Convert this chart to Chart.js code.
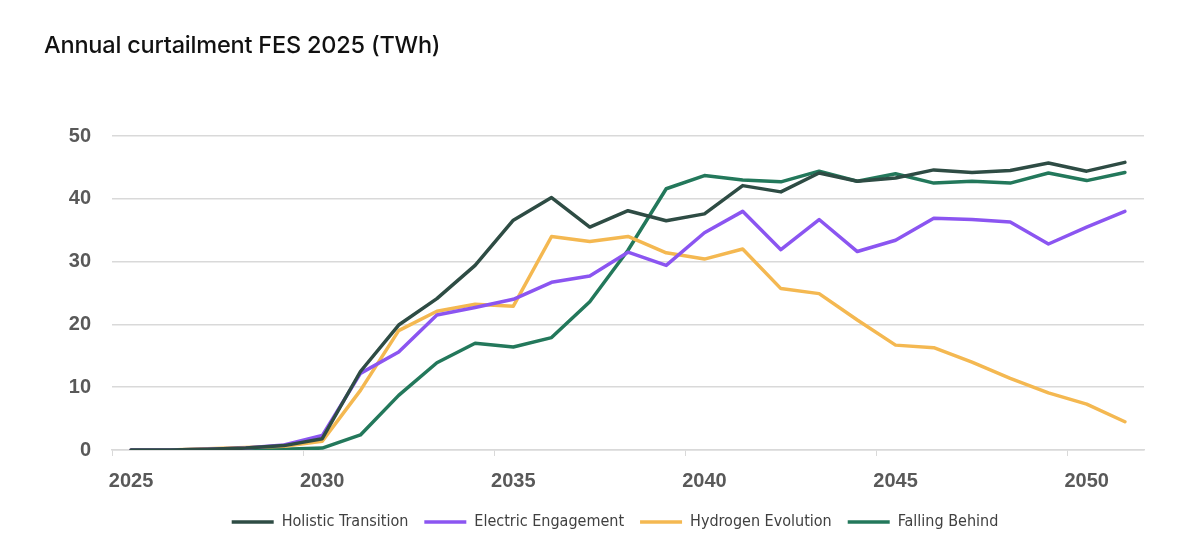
<!DOCTYPE html>
<html lang="en">
<head>
    <meta charset="UTF-8">
    <title>Annual curtailment FES 2025 (TWh)</title>
    <script src="https://cdn.jsdelivr.net/npm/chart.js"></script>
    <style>
        html, body { margin: 0; padding: 0; background: #fff; }
        .wrap { position: relative; width: 1200px; height: 554px; }
        .chart-title {
            position: absolute; left: 44px; top: 30px;
            font-family: Inter, "Noto Sans", sans-serif;
            font-size: 23.5px; font-weight: 500; color: #111;
            letter-spacing: -0.2px;
        }
        canvas { display: block; }
    </style>
</head>
<body>
<div class="wrap">
    <div class="chart-title">Annual curtailment FES 2025 (TWh)</div>
    <canvas id="curtailChart" width="1200" height="554"></canvas>
</div>

<script>
    // years 2025..2051, one point per year
    const years = ['2025', '2026', '2027', '2028', '2029', '2030', '2031', '2032', '2033', '2034',
        '2035', '2036', '2037', '2038', '2039', '2040', '2041', '2042', '2043', '2044',
        '2045', '2046', '2047', '2048', '2049', '2050', '2051'];

    // TWh
    const holisticTransition = [0, 0, 0.1, 0.3, 0.7, 1.8, 12.5, 19.9, 24.1, 29.4,
        36.6, 40.2, 35.5, 38.1, 36.5, 37.6, 42.1, 41.1, 44.1, 42.8,
        43.3, 44.6, 44.2, 44.5, 45.7, 44.4, 45.8];
    const electricEngagement = [0, 0, 0.1, 0.3, 0.8, 2.3, 12.2, 15.6, 21.5, 22.7,
        24.0, 26.7, 27.7, 31.5, 29.4, 34.6, 38.0, 31.9, 36.7, 31.6,
        33.4, 36.9, 36.7, 36.3, 32.8, 35.5, 38.0];
    const hydrogenEvolution = [0, 0, 0.2, 0.4, 0.6, 1.4, 9.5, 19.0, 22.1, 23.2,
        22.9, 34.0, 33.2, 34.0, 31.4, 30.4, 32.0, 25.7, 24.9, 20.7,
        16.7, 16.3, 14.0, 11.4, 9.1, 7.3, 4.5];
    const fallingBehind = [0, 0, 0.1, 0.1, 0.1, 0.3, 2.4, 8.7, 13.9, 17.0,
        16.4, 17.9, 23.6, 31.8, 41.6, 43.7, 43.0, 42.7, 44.4, 42.8,
        44.0, 42.5, 42.8, 42.5, 44.1, 42.9, 44.2];

    const yTicks = [0, 10, 20, 30, 40, 50];

    const gridGrey = '#d9d9d9';
    const tickGrey = '#595959';

    function series(label, data, color) {
        return {
            label: label,
            data: data,
            borderColor: color,
            backgroundColor: color,
            borderWidth: 3.5,
            pointRadius: 0,
            pointHoverRadius: 0,
            tension: 0,
            borderJoinStyle: 'round',
            borderCapStyle: 'round',
            fill: false
        };
    }

    // the legend in the picture sits a little right of the plot centre and a bit higher
    const legendShift = {
        id: 'legendShift',
        afterLayout(chart) {
            const lg = chart.legend;
            lg.left += 18;
            lg.right += 18;
            lg.top -= 8;
            lg.bottom -= 8;
        }
    };

    const ctx = document.getElementById('curtailChart').getContext('2d');
    new Chart(ctx, {
        type: 'line',
        data: {
            labels: years,
            datasets: [
                series('Holistic Transition', holisticTransition, '#2e4c44'),
                series('Electric Engagement', electricEngagement, '#8b55f1'),
                series('Hydrogen Evolution', hydrogenEvolution, '#f4b851'),
                series('Falling Behind', fallingBehind, '#23785b')
            ]
        },
        plugins: [legendShift],
        options: {
            responsive: false,
            animation: false,
            layout: {
                padding: { top: 136, left: 50, right: 56, bottom: 6 }
            },
            plugins: {
                tooltip: { enabled: false },
                legend: {
                    position: 'bottom',
                    labels: {
                        usePointStyle: true,
                        pointStyle: 'line',
                        pointStyleWidth: 42,
                        boxHeight: 4,
                        padding: 16,
                        color: '#404040',
                        font: { family: '"Liberation Sans Narrow", "DejaVu Sans Condensed", sans-serif', size: 16 }
                    }
                }
            },
            scales: {
                x: {
                    type: 'category',
                    offset: true,
                    grid: {
                        offset: true,
                        drawOnChartArea: false,
                        drawTicks: true,
                        tickLength: 6,
                        tickColor: c => (c.tick && c.index % 5 === 0) ? gridGrey : 'rgba(0,0,0,0)'
                    },
                    border: { display: true, color: gridGrey, width: 1.5 },
                    ticks: {
                        autoSkip: false,
                        maxRotation: 0,
                        minRotation: 0,
                        padding: 13,
                        color: tickGrey,
                        font: { family: '"Liberation Sans", Arial, sans-serif', size: 20, weight: 'bold' },
                        callback: (v, i) => i % 5 === 0 ? years[i] : ''
                    }
                },
                y: {
                    min: 0,
                    max: 50,
                    afterFit: scale => { scale.width = 62; },
                    afterBuildTicks: scale => { scale.ticks = yTicks.map(v => ({ value: v })); },
                    grid: { color: gridGrey, lineWidth: 1.5, drawTicks: false },
                    border: { display: false },
                    ticks: {
                        padding: 21,
                        color: tickGrey,
                        font: { family: '"Liberation Sans", Arial, sans-serif', size: 20, weight: 'bold' }
                    }
                }
            }
        }
    });
</script>
</body>
</html>
